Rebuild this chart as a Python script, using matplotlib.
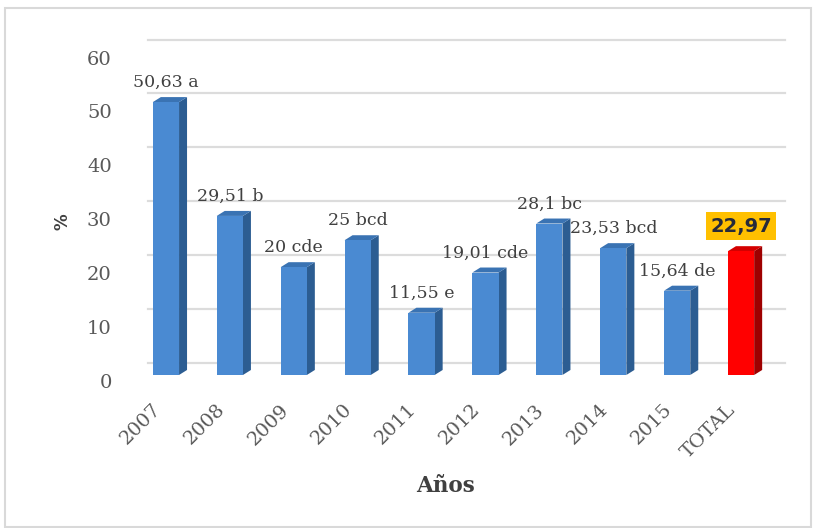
import matplotlib.pyplot as plt
from matplotlib.patches import Polygon, Rectangle
from matplotlib.transforms import ScaledTranslation
import numpy as np

# datos
anios = ['2007', '2008', '2009', '2010', '2011', '2012', '2013', '2014', '2015', 'TOTAL']
valores = [50.63, 29.51, 20, 25, 11.55, 19.01, 28.1, 23.53, 15.64, 22.97]
etiquetas = ['50,63 a', '29,51 b', '20 cde', '25 bcd', '11,55 e', '19,01 cde',
             '28,1 bc', '23,53 bcd', '15,64 de', '22,97']

fig = plt.figure(figsize=(8.18, 5.28), dpi=100)
fig.patches.append(Rectangle((5 / 818, 1 / 528), 806 / 818, 519 / 528, transform=fig.transFigure,
                             fill=False, edgecolor='#d9d9d9', linewidth=1.5))

ax = fig.add_axes([0.1638, 0.2898, 0.7812, 0.6125])
ax.set_xlim(-0.5, 9.5)
ax.set_ylim(0, 60)
for s in ax.spines.values():
    s.set_visible(False)

# pixeles por unidad, para el efecto 3D
px_x = 639 / 10.0
px_y = 323.4 / 60.0
dx = 8 / px_x
dy = 5 / px_y
w = 0.41

# lineas de division en la pared del fondo
off = ScaledTranslation(0, 12 / 100, fig.dpi_scale_trans)
for v in range(0, 61, 10):
    ax.plot([0.022, 1.018], [v, v], transform=ax.get_yaxis_transform() + off,
            color='#dcdcdc', linewidth=1.6, clip_on=False, zorder=0)

x = np.arange(len(anios))
for i, (xi, v) in enumerate(zip(x, valores)):
    if anios[i] == 'TOTAL':
        cf, cs, ct = '#ff0000', '#9e0000', '#d40000'
    else:
        cf, cs, ct = '#4a8ad2', '#2c5d92', '#3a73b3'
    l, r = xi - w / 2, xi + w / 2
    ax.add_patch(Polygon([(r, 0), (r + dx, dy), (r + dx, v + dy), (r, v)],
                         closed=True, facecolor=cs, edgecolor='none', zorder=2))
    ax.add_patch(Polygon([(l, v), (l + dx, v + dy), (r + dx, v + dy), (r, v)],
                         closed=True, facecolor=ct, edgecolor='none', zorder=2))
    ax.bar(xi, v, width=w, color=cf, zorder=3)

    if anios[i] == 'TOTAL':
        ax.annotate(etiquetas[i], (xi, v), xytext=(0, 18), textcoords='offset points',
                    ha='center', va='center', fontsize=14, fontweight='bold',
                    family='DejaVu Sans', color='#262a3a',
                    bbox=dict(boxstyle='square,pad=0.22', facecolor='#ffc000', edgecolor='none'))
    else:
        ax.annotate(etiquetas[i], (xi, v), xytext=(0, 14), textcoords='offset points',
                    ha='center', va='center', fontsize=12.5, family='DejaVu Serif',
                    color='#404040')

ax.set_yticks(range(0, 61, 10))
ax.tick_params(axis='both', length=0)
ax.tick_params(axis='y', pad=16)
for t in ax.get_yticklabels():
    t.set_fontsize(14)
    t.set_family('DejaVu Serif')
    t.set_color('#595959')
    t.set_transform(t.get_transform() + ScaledTranslation(0, -6 / 100, fig.dpi_scale_trans))

ax.set_xticks(x)
ax.set_xticklabels(anios, rotation=45, ha='right', va='center', rotation_mode='anchor',
                   fontsize=14, family='DejaVu Serif', color='#595959')
ax.tick_params(axis='x', pad=23)
for t in ax.get_xticklabels():
    t.set_transform(t.get_transform() + ScaledTranslation(-8 / 100, 0, fig.dpi_scale_trans))

fig.text(63 / 818, 1 - 222 / 528, '%', rotation=90, ha='center', va='center',
         fontsize=12, fontweight='bold', color='#404040')
fig.text(446 / 818, 1 - 486 / 528, 'Años', ha='center', va='center',
         fontsize=15.5, fontweight='bold', family='DejaVu Serif', color='#404040')

fig.savefig('out.png', dpi=100)
